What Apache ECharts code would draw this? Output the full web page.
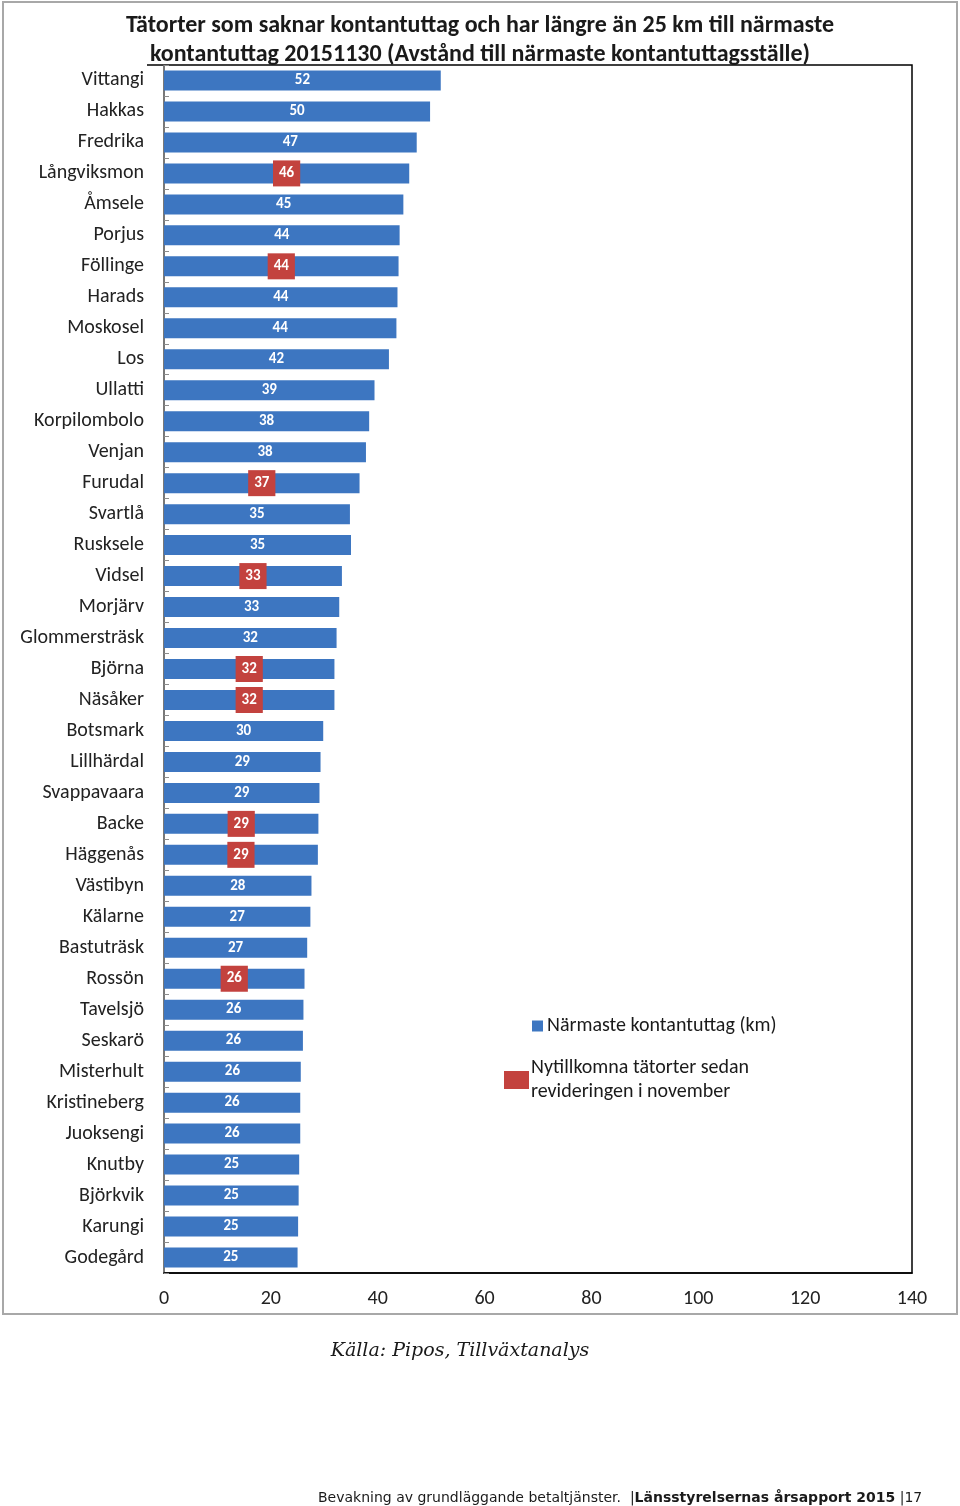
<!DOCTYPE html>
<html>
<head>
<meta charset="utf-8">
<script src="https://cdn.jsdelivr.net/npm/echarts@6/dist/echarts.min.js"></script>
<style>
html,body{margin:0;padding:0;background:#fff;}
#chart{width:960px;height:1506px;}
</style>
</head>
<body>
<div id="chart"></div>
<script>
var categories = ['Vittangi','Hakkas','Fredrika','Långviksmon','Åmsele','Porjus','Föllinge','Harads','Moskosel','Los','Ullatti','Korpilombolo','Venjan','Furudal','Svartlå','Rusksele','Vidsel','Morjärv','Glommersträsk','Björna','Näsåker','Botsmark','Lillhärdal','Svappavaara','Backe','Häggenås','Västibyn','Kälarne','Bastuträsk','Rossön','Tavelsjö','Seskarö','Misterhult','Kristineberg','Juoksengi','Knutby','Björkvik','Karungi','Godegård'];
var distances = [51.8,49.8,47.3,45.9,44.8,44.1,43.9,43.7,43.5,42.1,39.4,38.4,37.8,36.6,34.8,35.0,33.3,32.8,32.3,31.9,31.9,29.8,29.3,29.1,28.9,28.8,27.6,27.4,26.8,26.3,26.1,26.0,25.6,25.5,25.5,25.3,25.2,25.1,25.0];
var isNew = [0,0,0,1,0,0,1,0,0,0,0,0,0,1,0,0,1,0,0,1,1,0,0,0,1,1,0,0,0,1,0,0,0,0,0,0,0,0,0];
var xTicks = {min:0, max:140, interval:20};
var seriesNames = ['Närmaste kontantuttag (km)', 'Nytillkomna tätorter sedan\nrevideringen i november'];
var titleText = 'Tätorter som saknar kontantuttag och har längre än 25 km till närmaste\nkontantuttag 20151130 (Avstånd till närmaste kontantuttagsställe)';

var BLUE = '#3D76C1', RED = '#C3423E';
var FONT = 'Carlito, Calibri, Lato, sans-serif';

var barData = distances.map(function(v, i){
  var item = {value: v};
  if (isNew[i]) {
    item.label = {backgroundColor: RED, padding: [5, 6, 5, 6], lineHeight: 16};
  }
  return item;
});

var chart = echarts.init(document.getElementById('chart'), null, {renderer:'canvas'});
chart.setOption({
  animation: false,
  backgroundColor: '#fff',
  title: {
    text: titleText,
    left: 480, top: 11, textAlign: 'center', padding: 0,
    textStyle: {fontFamily: FONT, fontSize: 24, fontWeight: 'bold', color: '#1a1a1a', lineHeight: 29}
  },
  grid: {left: 164, right: 48, top: 65, bottom: 233, show: true, borderColor: '#000', borderWidth: 1.5},
  legend: [
    {data: [seriesNames[0]], left: 532, top: 1016, padding: 0, icon: 'rect', itemWidth: 11, itemHeight: 11, itemGap: 5,
     textStyle: {fontFamily: FONT, fontSize: 20, color: '#1a1a1a', padding: [0,0,0,-1]}, selectedMode: false},
    {data: [seriesNames[1]], left: 504, top: 1052, padding: 0, icon: 'rect', itemWidth: 25, itemHeight: 18, itemGap: 3,
     textStyle: {fontFamily: FONT, fontSize: 20, color: '#1a1a1a', lineHeight: 24, padding:[8,0,0,-3]}, selectedMode: false}
  ],
  xAxis: {
    type: 'value', min: xTicks.min, max: xTicks.max, interval: xTicks.interval,
    axisLine: {show: true, lineStyle: {color: '#000', width: 1.5}},
    axisTick: {show: false},
    splitLine: {show: false},
    axisLabel: {fontFamily: FONT, fontSize: 20, color: '#222', margin: 16}
  },
  yAxis: {
    type: 'category', data: categories, inverse: true,
    axisLine: {show: true, lineStyle: {color: '#8c8c8c', width: 1.5}},
    axisTick: {show: true, inside: true, length: 5, lineStyle: {color: '#8c8c8c'}},
    axisLabel: {fontFamily: FONT, fontSize: 20, color: '#222', margin: 20}
  },
  series: [
    {
      name: seriesNames[0], type: 'bar', stack: 's', data: barData, barWidth: 20,
      itemStyle: {color: BLUE},
      label: {show: true, position: 'inside', color: '#fff', fontFamily: FONT, fontSize: 15, fontWeight: 'bold',
        formatter: function(p){ return Math.round(p.value); }}
    },
    {
      name: seriesNames[1], type: 'bar', stack: 's', data: [], barWidth: 20,
      itemStyle: {color: RED}
    }
  ],
  graphic: [
    {type: 'rect', shape: {x: 3, y: 2, width: 954, height: 1312}, style: {fill: 'none', stroke: '#a8a8a8', lineWidth: 2}, silent: true, z: -1},
    {type: 'line', shape: {x1: 147, y1: 65, x2: 165, y2: 65}, style: {stroke: '#000', lineWidth: 1.5}, silent: true},
    {type: 'text', x: 460, y: 1342, style: {text: 'Källa: Pipos, Tillväxtanalys', textAlign: 'center', font: 'italic 19px "DejaVu Serif", serif', fill: '#1a1a1a'}},
    {type: 'text', left: 318, top: 1491, style: {
      text: '{n|Bevakning av grundläggande betaltjänster.  |}{b|Länsstyrelsernas årsapport 2015}{n| |17}',
      rich: {
        n: {fontFamily: '"DejaVu Sans", sans-serif', fontSize: 14, fill: '#1a1a1a'},
        b: {fontFamily: '"DejaVu Sans", sans-serif', fontSize: 14, fontWeight: 'bold', fill: '#1a1a1a'}
      }
    }}
  ]
});
</script>
</body>
</html>
